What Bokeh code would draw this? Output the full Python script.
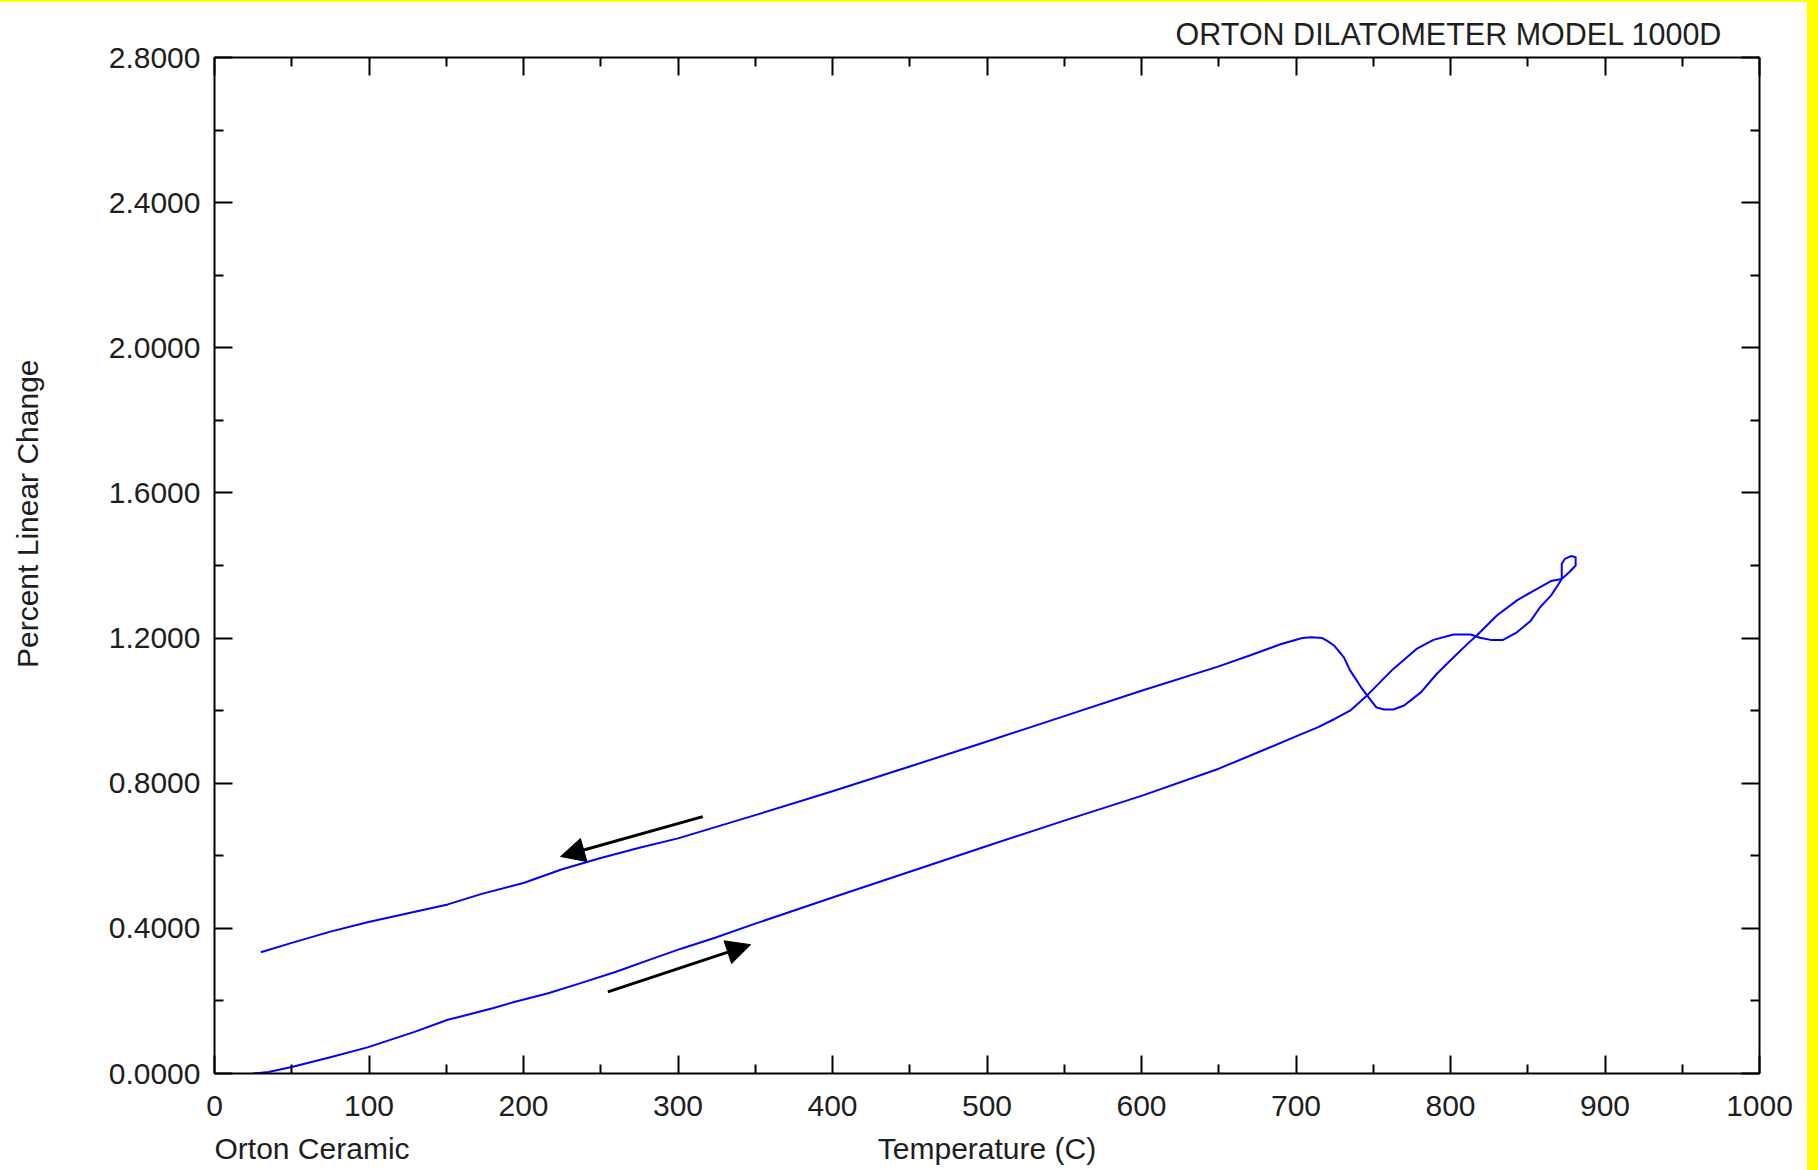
import math
from bokeh.plotting import figure
from bokeh.models import (Range1d, FixedTicker, LinearAxis, NumeralTickFormatter,
                          Label, Arrow, NormalHead, Spacer)
from bokeh.layouts import column, row
from bokeh.embed import file_html
from bokeh.resources import INLINE

# ---- data ----
heat_temp = [25, 35, 50, 75, 99, 129, 151, 162, 180, 194, 216, 237, 259, 280, 302, 324, 350, 400, 450, 500,
             550, 600, 650, 681, 700, 714, 725, 735, 746, 763, 778, 789, 802, 813, 819, 826, 834, 843, 852, 858,
             865, 870, 872, 872, 874, 878, 881, 881, 877, 872]
heat_change = [0.000, 0.004, 0.018, 0.045, 0.072, 0.114, 0.148, 0.160, 0.180, 0.197, 0.221, 0.249, 0.279, 0.311,
               0.344, 0.374, 0.413, 0.485, 0.556, 0.627, 0.697, 0.765, 0.840, 0.895, 0.929, 0.954, 0.977, 1.000,
               1.042, 1.115, 1.170, 1.195, 1.210, 1.210, 1.201, 1.195, 1.195, 1.216, 1.248, 1.285, 1.317, 1.349,
               1.363, 1.405, 1.418, 1.426, 1.423, 1.400, 1.382, 1.363]

cool_temp = [872, 865, 854, 843, 830, 817, 811, 802, 791, 781, 770, 763, 757, 752, 746, 742, 735, 731, 725, 720,
             717, 710, 704, 690, 670, 650, 600, 550, 500, 450, 400, 350, 300, 275, 250, 225, 200, 173, 151, 129,
             99, 75, 50, 30]
cool_change = [1.363, 1.357, 1.331, 1.304, 1.262, 1.207, 1.184, 1.147, 1.101, 1.051, 1.014, 1.003, 1.003, 1.009,
               1.042, 1.065, 1.111, 1.147, 1.178, 1.193, 1.200, 1.202, 1.200, 1.183, 1.152, 1.122, 1.055, 0.985,
               0.915, 0.846, 0.778, 0.712, 0.648, 0.622, 0.594, 0.563, 0.525, 0.495, 0.466, 0.445, 0.417, 0.391,
               0.360, 0.334]

# direction arrows (cooling arrow, heating arrow) in data units
arrow_x_start = [316.0, 254.6]
arrow_y_start = [0.708, 0.225]
arrow_x_end = [224.0, 347.0]
arrow_y_end = [0.598, 0.355]

x_ticks = [0, 100, 200, 300, 400, 500, 600, 700, 800, 900, 1000]
x_minor_ticks = [50, 150, 250, 350, 450, 550, 650, 750, 850, 950]
y_ticks = [0.0, 0.4, 0.8, 1.2, 1.6, 2.0, 2.4, 2.8]
y_minor_ticks = [0.2, 0.6, 1.0, 1.4, 1.8, 2.2, 2.6]

title_text = "ORTON DILATOMETER MODEL 1000D"
x_label = "Temperature (C)"
y_label = "Percent Linear Change"
corner_text = "Orton Ceramic"

FONT = "Liberation Sans"
TXT = "#1e1e1e"
FS = "30px"

# ---- geometry of the page ----
TOTAL_W = 1807          # width left of the yellow strip
LEFT_W = 60             # strip holding the y label
MAIN_H = 1129
BOTTOM_H = 39           # strip holding the x label row


def blank_fig(width, height, xr, yr, left=0, right=0):
    f = figure(width=width, height=height, output_backend="svg", toolbar_location=None,
               x_range=xr, y_range=yr, x_axis_location=None, y_axis_location=None,
               min_border_left=left, min_border_right=right,
               min_border_top=0, min_border_bottom=0,
               background_fill_color="white", border_fill_color="white")
    f.outline_line_color = None
    f.grid.visible = False
    return f


# main plot
p = figure(width=TOTAL_W - LEFT_W, height=MAIN_H, output_backend="svg", toolbar_location=None,
           x_range=Range1d(0, 1000), y_range=Range1d(0, 2.8), title=title_text,
           min_border_left=154, min_border_right=48, min_border_top=55, min_border_bottom=58,
           background_fill_color="white", border_fill_color="white")
p.outline_line_color = None
p.xgrid.visible = False
p.ygrid.visible = False
p.title.align = "right"
p.title.offset = 37
p.title.standoff = 14
p.title.text_font = FONT
p.title.text_font_size = "30.5px"
p.title.text_font_style = "normal"
p.title.text_color = TXT


def style_axis(ax, show_labels):
    ax.axis_line_color = "black"
    ax.axis_line_width = 2
    ax.major_tick_line_color = "black"
    ax.major_tick_line_width = 2
    ax.minor_tick_line_color = "black"
    ax.minor_tick_line_width = 2
    ax.major_tick_in = 18
    ax.major_tick_out = 0
    ax.minor_tick_in = 9
    ax.minor_tick_out = 0
    if show_labels:
        ax.major_label_text_font = FONT
        ax.major_label_text_font_size = FS
        ax.major_label_text_color = TXT
    else:
        ax.major_label_text_font_size = "6px"
        ax.major_label_text_color = None
        ax.major_label_standoff = 0


xax = p.xaxis[0]
xax.ticker = FixedTicker(ticks=x_ticks, minor_ticks=x_minor_ticks)
style_axis(xax, True)
xax.major_label_standoff = 22

yax = p.yaxis[0]
yax.ticker = FixedTicker(ticks=y_ticks, minor_ticks=y_minor_ticks)
yax.formatter = NumeralTickFormatter(format="0.0000")
style_axis(yax, True)
yax.major_label_standoff = 14

top_ax = LinearAxis(ticker=FixedTicker(ticks=x_ticks, minor_ticks=x_minor_ticks))
style_axis(top_ax, False)
p.add_layout(top_ax, "above")
right_ax = LinearAxis(ticker=FixedTicker(ticks=y_ticks, minor_ticks=y_minor_ticks))
style_axis(right_ax, False)
p.add_layout(right_ax, "right")

p.line(heat_temp, heat_change, line_color="#0000ff", line_width=2, line_join="round")
p.line(cool_temp, cool_change, line_color="#0000ff", line_width=2, line_join="round")

for xs, ys, xe, ye in zip(arrow_x_start, arrow_y_start, arrow_x_end, arrow_y_end):
    p.add_layout(Arrow(end=NormalHead(size=24, fill_color="black", line_color="black", line_width=1),
                       x_start=xs, y_start=ys, x_end=xe, y_end=ye,
                       line_color="black", line_width=3))

# y label strip (pixel coordinates)
left_fig = blank_fig(LEFT_W, MAIN_H, Range1d(0, LEFT_W), Range1d(0, MAIN_H))
left_fig.add_layout(Label(x=27, y=622, text=y_label, angle=math.pi / 2, text_align="center",
                          text_baseline="middle", text_font=FONT, text_font_size=FS, text_color=TXT))

# x label row, aligned to the main plot's temperature scale
bottom_fig = blank_fig(TOTAL_W, BOTTOM_H, Range1d(0, 1000), Range1d(0, BOTTOM_H), left=214, right=48)
bottom_fig.add_layout(Label(x=0, y=22, text=corner_text, text_align="left", text_baseline="alphabetic",
                            text_font=FONT, text_font_size=FS, text_color=TXT))
bottom_fig.add_layout(Label(x=500, y=22, text=x_label, text_align="center", text_baseline="alphabetic",
                            text_font=FONT, text_font_size=FS, text_color=TXT))

top_strip = Spacer(width=1818, height=2, styles={"background-color": "#ffff00"})
right_strip = Spacer(width=11, height=1168, styles={"background-color": "#ffff00"})
inner = column(row(left_fig, p, spacing=0), bottom_fig, spacing=0)
page = column(top_strip, row(inner, right_strip, spacing=0), spacing=0)

open("out.html", "w").write(file_html(page, INLINE))
